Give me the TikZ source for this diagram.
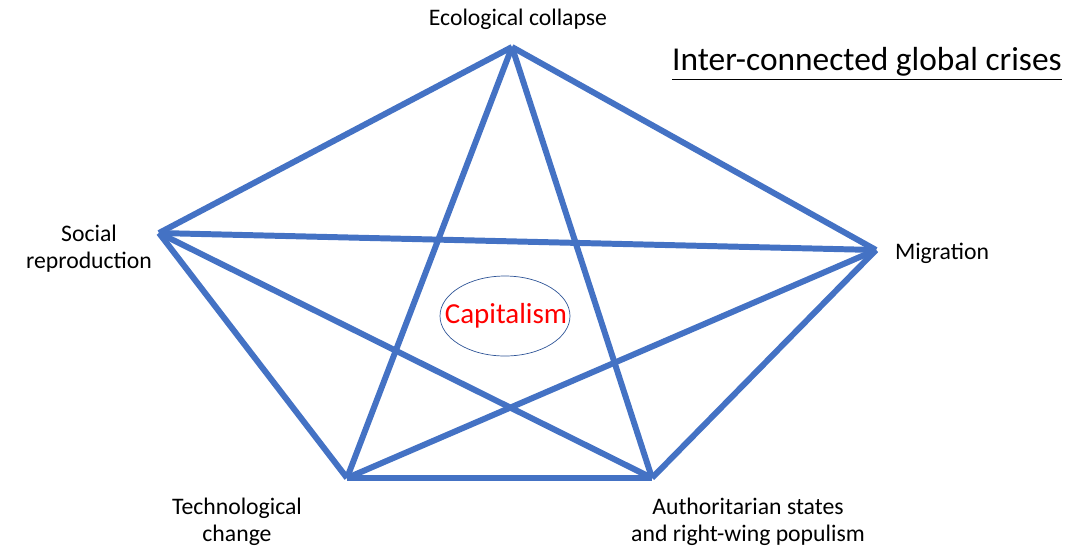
\documentclass[tikz,border=0pt]{standalone}
\usepackage{fontspec}
\setmainfont{Carlito}
\usetikzlibrary{calc}
\definecolor{edgeblue}{HTML}{4472C4}
\definecolor{ringblue}{HTML}{2F5597}

\begin{document}
\begin{tikzpicture}[x=0.02cm, y=-0.02cm,
    crisis/.style={font=\fontsize{13.5}{15.5}\selectfont, align=center},
    link/.style={edgeblue, line width=3.4pt}]
    \useasboundingbox (0, 0) rectangle (1068, 549);
    
    \coordinate (eco) at (512, 47);
    \coordinate (soc) at (159, 233);
    \coordinate (mig) at (876, 250);
    \coordinate (tec) at (347, 478);
    \coordinate (aut) at (652, 478);
    
    \foreach \a/\b in {eco/soc, eco/mig, eco/tec, eco/aut, soc/mig, soc/tec, soc/aut, mig/tec, mig/aut, tec/aut}{
      \draw[link] (\a) -- (\b);
    }
    
    \node[crisis] (ecolbl) at (518, 19) {Ecological collapse};
    \node[crisis] (soclbl) at (89, 249) {Social\\reproduction};
    \node[crisis] (miglbl) at (942, 253) {Migration};
    \node[crisis] (teclbl) at (237, 522) {Technological\\change};
    \node[crisis] (autlbl) at (748, 522) {Authoritarian states\\and right-wing populism};
    
    \node[text=red, font=\fontsize{16.5}{19}\selectfont] (cap) at (506, 316) {Capitalism};
    \draw[ringblue, thin] (505, 316) ellipse [x radius=65*0.02cm, y radius=40*0.02cm];
    
    \node[font=\fontsize{19}{22}\selectfont] (title) at (867, 64) {\underline{Inter-connected global crises}};
\end{tikzpicture}
\end{document}
